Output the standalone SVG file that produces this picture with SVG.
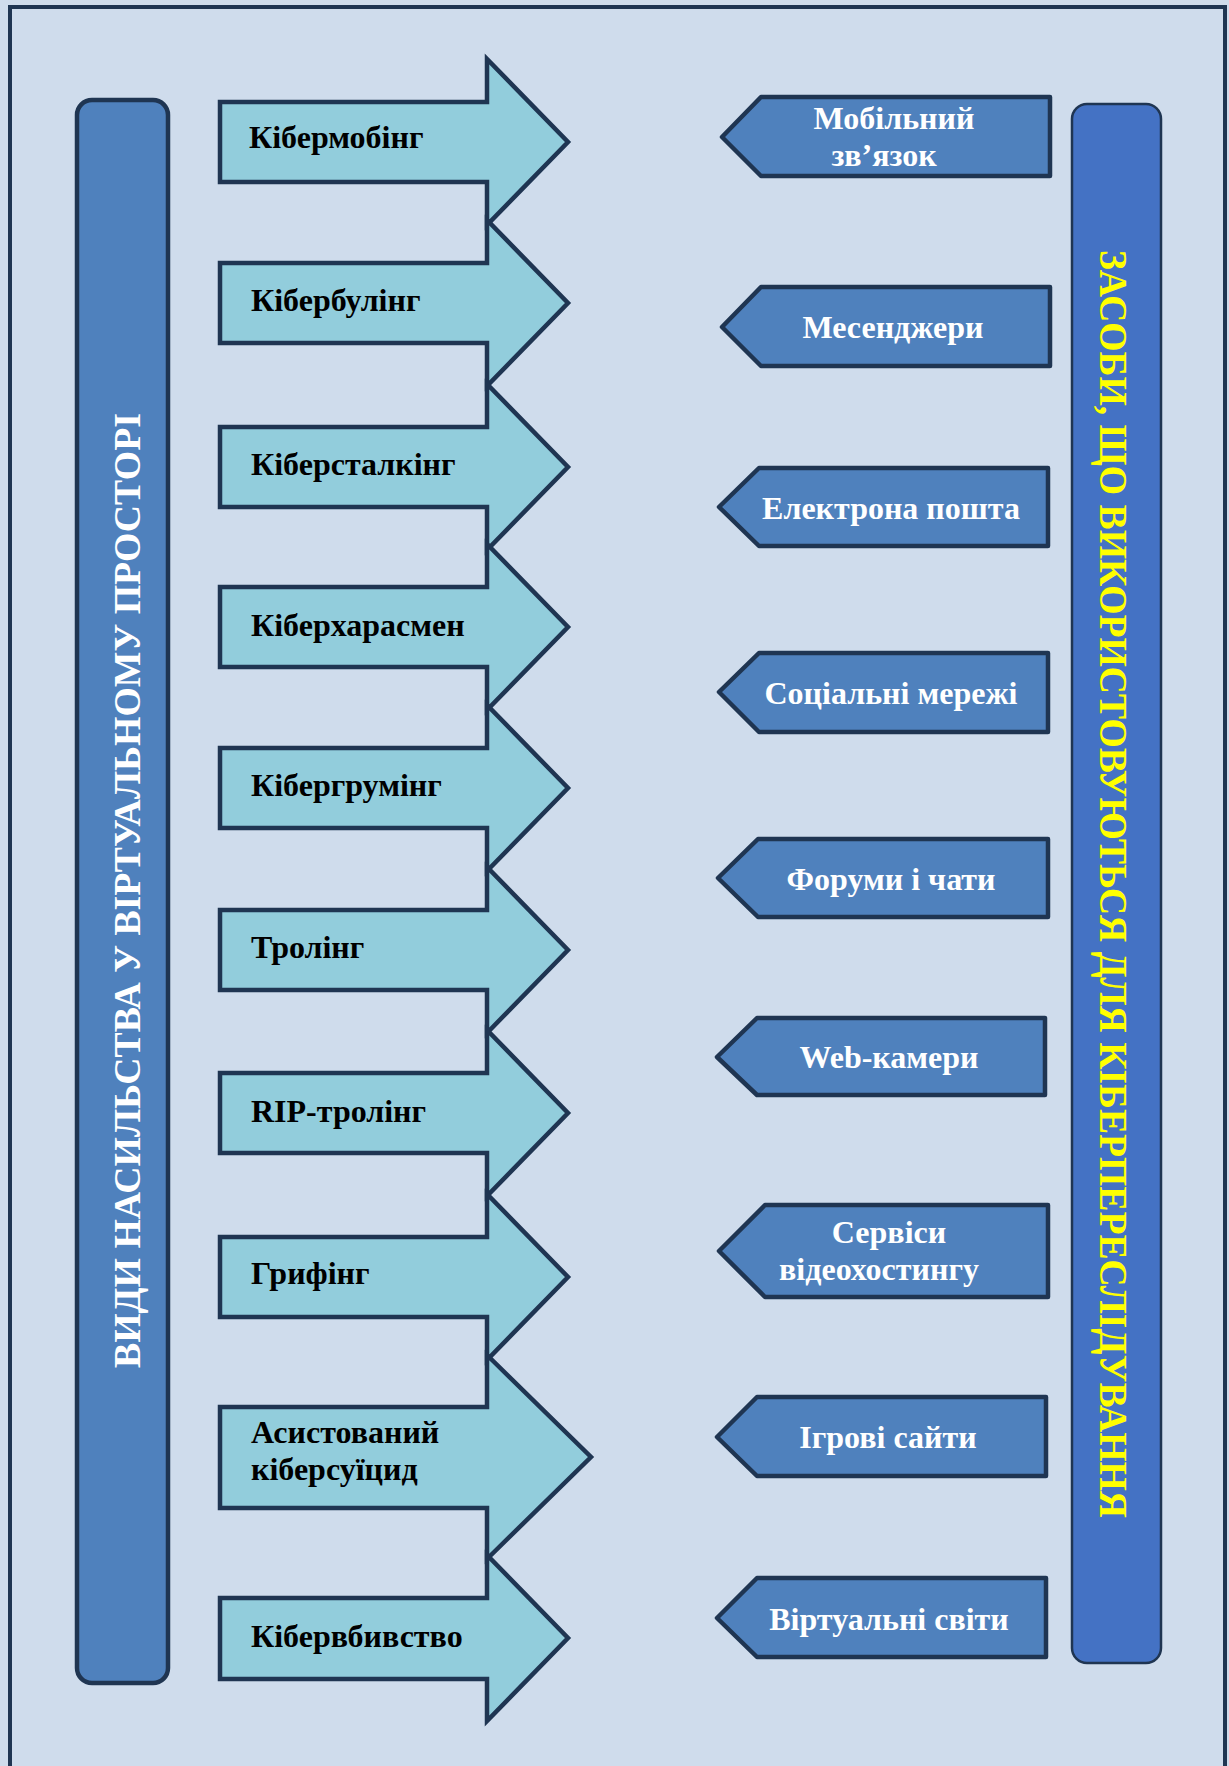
<svg xmlns="http://www.w3.org/2000/svg" width="1229" height="1766" viewBox="0 0 1229 1766">
<style>
.arr{fill:#92CDDC;stroke:#1F3552;stroke-width:4.5;stroke-linejoin:miter}
.box{fill:#4F81BD;stroke:#1F3552;stroke-width:4.5;stroke-linejoin:round}
.lt{font-family:"Liberation Serif","Times New Roman",serif;font-weight:bold;font-size:32px;fill:#000}
.rt{font-family:"Liberation Serif","Times New Roman",serif;font-weight:bold;font-size:32px;fill:#fff;text-anchor:middle}
.bar{font-family:"Liberation Serif","Times New Roman",serif;font-weight:bold}
</style>
<rect x="0" y="0" width="1229" height="1766" fill="#CFDCEC"/>
<rect id="frame" x="10" y="7" width="1215" height="1780" fill="#CFDCEC" stroke="#1F3552" stroke-width="4"/>

<g id="left-bar">
<rect x="77" y="100" width="91" height="1583" rx="15" ry="15" fill="#4F81BD" stroke="#1F3552" stroke-width="4.5"/>
<text class="bar" transform="translate(140,1368) rotate(-90)" font-size="38" fill="#fff" textLength="955" lengthAdjust="spacingAndGlyphs">ВИДИ НАСИЛЬСТВА У ВІРТУАЛЬНОМУ ПРОСТОРІ</text>
</g>

<g id="right-bar">
<rect x="1072" y="104" width="89" height="1559" rx="15" ry="15" fill="#4472C4" stroke="#1F3552" stroke-width="2.5"/>
<text class="bar" transform="translate(1100,250) rotate(90)" font-size="40" fill="#FFFF00" textLength="1268" lengthAdjust="spacingAndGlyphs">ЗАСОБИ, ЩО ВИКОРИСТОВУЮТЬСЯ ДЛЯ КІБЕРПЕРЕСЛІДУВАННЯ</text>
</g>

<g id="kibermobing"><path class="arr" d="M220,102 H487 V59 L568,142 L487,225 V182 H220 Z"/><text class="lt" x="249" y="148">Кібермобінг</text></g>
<g id="kiberbuling"><path class="arr" d="M220,263 H487 V220 L568,303 L487,386 V343 H220 Z"/><text class="lt" x="251" y="311">Кібербулінг</text></g>
<g id="kiberstalking"><path class="arr" d="M220,427 H487 V384 L568,467 L487,550 V507 H220 Z"/><text class="lt" x="251" y="475">Кіберсталкінг</text></g>
<g id="kiberharasmen"><path class="arr" d="M220,587 H487 V544 L568,627 L487,710 V667 H220 Z"/><text class="lt" x="251" y="636">Кіберхарасмен</text></g>
<g id="kibergruming"><path class="arr" d="M220,748 H487 V705 L568,788 L487,871 V828 H220 Z"/><text class="lt" x="251" y="796">Кібергрумінг</text></g>
<g id="troling"><path class="arr" d="M220,910 H487 V867 L568,950 L487,1033 V990 H220 Z"/><text class="lt" x="251" y="958">Тролінг</text></g>
<g id="rip-troling"><path class="arr" d="M220,1073 H487 V1030 L568,1113 L487,1196 V1153 H220 Z"/><text class="lt" x="251" y="1122">RIP-тролінг</text></g>
<g id="grifing"><path class="arr" d="M220,1237 H487 V1194 L568,1277 L487,1360 V1317 H220 Z"/><text class="lt" x="251" y="1284">Грифінг</text></g>
<g id="asistovanyi"><path class="arr" d="M220,1407 H487 V1355 L591,1457 L487,1559 V1508 H220 Z"/><text class="lt" x="251" y="1443">Асистований</text><text class="lt" x="251" y="1480">кіберсуїцид</text></g>
<g id="kibervbyvstvo"><path class="arr" d="M220,1598 H487 V1555 L568,1638 L487,1721 V1679 H220 Z"/><text class="lt" x="251" y="1647">Кібервбивство</text></g>

<g id="mobilnyi"><path class="box" d="M722,137 L761,97 H1050 V176 H761 Z"/><text class="rt" x="894" y="129">Мобільний</text><text class="rt" x="884" y="166">зв’язок</text></g>
<g id="mesendzhery"><path class="box" d="M722,327 L761,287 H1050 V366 H761 Z"/><text class="rt" x="893" y="338">Месенджери</text></g>
<g id="email"><path class="box" d="M719,507 L759,468 H1048 V546 H759 Z"/><text class="rt" x="891" y="519">Електрона пошта</text></g>
<g id="social"><path class="box" d="M719,692 L759,653 H1048 V732 H759 Z"/><text class="rt" x="891" y="704">Соціальні мережі</text></g>
<g id="forums"><path class="box" d="M718,878 L758,839 H1048 V917 H758 Z"/><text class="rt" x="891" y="890">Форуми і чати</text></g>
<g id="webcam"><path class="box" d="M717,1057 L757,1018 H1045 V1095 H757 Z"/><text class="rt" x="889" y="1068">Web-камери</text></g>
<g id="video"><path class="box" d="M719,1251 L765,1205 H1048 V1297 H765 Z"/><text class="rt" x="889" y="1243">Сервіси</text><text class="rt" x="879" y="1280">відеохостингу</text></g>
<g id="games"><path class="box" d="M717,1437 L757,1397 H1046 V1476 H757 Z"/><text class="rt" x="888" y="1448">Ігрові сайти</text></g>
<g id="virtual"><path class="box" d="M717,1618 L757,1578 H1046 V1657 H757 Z"/><text class="rt" x="889" y="1630">Віртуальні світи</text></g>

<g id="connectors"></g>
</svg>
